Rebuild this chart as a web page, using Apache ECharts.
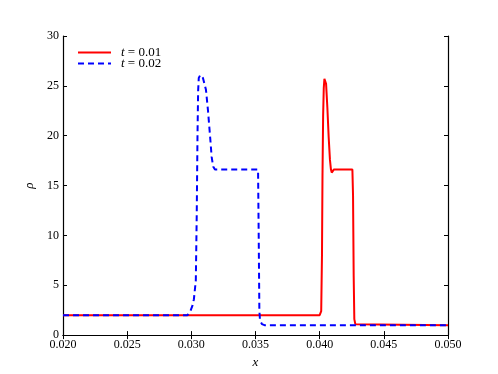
<!DOCTYPE html>
<html>
<head>
<meta charset="utf-8">
<script src="https://cdn.jsdelivr.net/npm/echarts@6/dist/echarts.min.js"></script>
<style>
  html, body { margin: 0; padding: 0; background: #fff; }
  #main { width: 498px; height: 374px; }
</style>
</head>
<body>
<div id="main"></div>
<script>
// data
var seriesNames = ['t = 0.01', 't = 0.02'];
var xTicks = [0.020, 0.025, 0.030, 0.035, 0.040, 0.045, 0.050];
var yTicks = [0, 5, 10, 15, 20, 25, 30];

// t = 0.01 (red, solid)
var redX = [0.020, 0.0400, 0.04012, 0.04018, 0.04022, 0.04027, 0.04032, 0.04037, 0.0404, 0.04045, 0.0405, 0.0406, 0.0407, 0.0408, 0.04088, 0.04094, 0.0410, 0.0411, 0.04255, 0.0426, 0.04265, 0.0427, 0.04278, 0.0429, 0.050];
var redY = [2.0, 2.0, 2.4, 8.0, 16.0, 22.0, 24.8, 25.7, 25.9, 25.8, 25.2, 22.8, 19.9, 17.6, 16.6, 16.3, 16.5, 16.6, 16.6, 14.0, 6.0, 1.6, 1.1, 1.0, 1.0];

// t = 0.02 (blue, dashed)
var blueX = [0.020, 0.0297, 0.0299, 0.0301, 0.0302, 0.03035, 0.03042, 0.03048, 0.03053, 0.03058, 0.0307, 0.0308, 0.0309, 0.0310, 0.03114, 0.0313, 0.0314, 0.0315, 0.03158, 0.0317, 0.03184, 0.0352, 0.03525, 0.0353, 0.03535, 0.0355, 0.0357, 0.050];
var blueY = [2.0, 2.0, 2.3, 3.0, 3.6, 5.5, 12.0, 20.0, 24.5, 25.8, 26.1, 26.1, 25.8, 25.3, 24.6, 22.5, 20.9, 19.3, 17.9, 16.9, 16.6, 16.6, 10.0, 2.5, 1.5, 1.1, 1.0, 1.0];

function pairs(xs, ys) {
  var out = [];
  for (var i = 0; i < xs.length; i++) out.push([xs[i], ys[i]]);
  return out;
}

var chart = echarts.init(document.getElementById('main'));
var serif = 'Liberation Serif';
var tickStyle = { show: true, inside: true, length: 4, lineStyle: { color: '#000', width: 1 } };
var lineStyleAx = { show: true, lineStyle: { color: '#000', width: 1.2 } };

var option = {
  animation: false,
  backgroundColor: '#fff',
  grid: { left: 63, right: 50, top: 36, bottom: 38 },
  legend: {
    orient: 'vertical',
    left: 72,
    top: 41,
    itemWidth: 33,
    itemHeight: 8,
    itemGap: -2,
    data: seriesNames,
    itemStyle: { opacity: 0 },
    formatter: function (name) {
      return '{i|t}{n|' + name.slice(1) + '}';
    },
    textStyle: {
      fontFamily: serif,
      fontSize: 13,
      color: '#000',
      padding: [0, 0, 0, 5],
      rich: {
        i: { fontFamily: serif, fontStyle: 'italic', fontSize: 13, color: '#000' },
        n: { fontFamily: serif, fontSize: 13, color: '#000' }
      }
    }
  },
  xAxis: [{
    type: 'value',
    min: 0.02, max: 0.05, interval: 0.005,
    name: 'x',
    nameLocation: 'middle',
    nameGap: 20,
    nameTextStyle: { fontFamily: serif, fontStyle: 'italic', fontSize: 13, color: '#000' },
    axisLine: lineStyleAx,
    axisTick: tickStyle,
    splitLine: { show: false },
    axisLabel: {
      margin: 4, fontFamily: serif, fontSize: 12, color: '#000',
      formatter: function (v) { return v.toFixed(3); }
    }
  }, {
    type: 'value', position: 'top',
    min: 0.02, max: 0.05, interval: 0.005,
    axisLine: lineStyleAx, axisTick: tickStyle,
    axisLabel: { show: false }, splitLine: { show: false }
  }],
  yAxis: [{
    type: 'value',
    min: 0, max: 30, interval: 5,
    name: 'ρ',
    nameLocation: 'middle',
    nameRotate: 90,
    nameGap: 22,
    nameTextStyle: { fontFamily: serif, fontStyle: 'italic', fontSize: 13, color: '#000' },
    axisLine: lineStyleAx,
    axisTick: tickStyle,
    splitLine: { show: false },
    axisLabel: { margin: 4, fontFamily: serif, fontSize: 12, color: '#000' }
  }, {
    type: 'value', position: 'right',
    min: 0, max: 30, interval: 5,
    axisLine: lineStyleAx, axisTick: tickStyle,
    axisLabel: { show: false }, splitLine: { show: false }
  }],
  series: [{
    name: seriesNames[0],
    type: 'line',
    symbol: 'none',
    data: pairs(redX, redY),
    lineStyle: { color: '#ff0000', width: 2 },
    itemStyle: { color: '#ff0000' }
  }, {
    name: seriesNames[1],
    type: 'line',
    symbol: 'none',
    data: pairs(blueX, blueY),
    lineStyle: { color: '#0000ff', width: 2, type: [6, 4] },
    itemStyle: { color: '#0000ff' }
  }]
};
chart.setOption(option);
</script>
</body>
</html>
